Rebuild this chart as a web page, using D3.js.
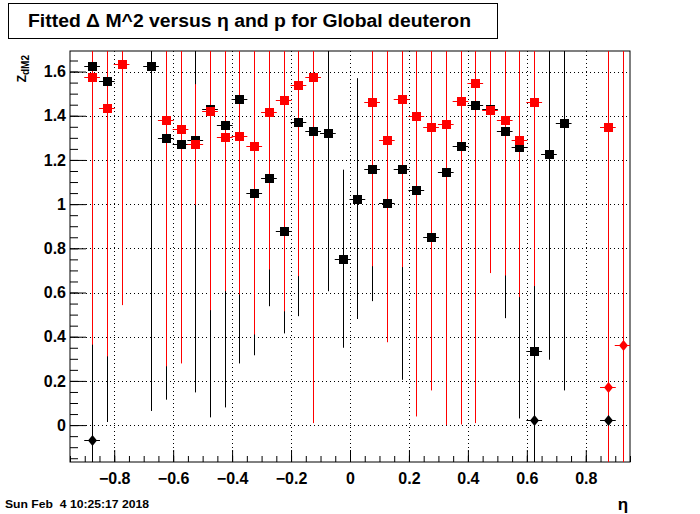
<!DOCTYPE html>
<html>
<head>
<meta charset="utf-8">
<script src="https://cdn.jsdelivr.net/npm/d3@7"></script>
<style>
body { margin: 0; background: #fff; }
text { font-family: "Liberation Sans", Arial, Helvetica, sans-serif; font-weight: bold; }
</style>
</head>
<body>
<div id="chart"></div>
<script>
// tick labels
const xTicks = [-0.8, -0.6, -0.4, -0.2, 0, 0.2, 0.4, 0.6, 0.8];
const yTicks = [0, 0.2, 0.4, 0.6, 0.8, 1, 1.2, 1.4, 1.6];

// half width of an eta bin
const etaHalf = 0.025;

// black squares
const blackSqEta = [-0.875, -0.825, -0.675, -0.625, -0.575, -0.525, -0.475, -0.425, -0.375, -0.325,
  -0.275, -0.225, -0.175, -0.125, -0.075, -0.025, 0.025, 0.075, 0.125, 0.175,
  0.225, 0.275, 0.325, 0.375, 0.425, 0.475, 0.525, 0.575, 0.625, 0.675, 0.725];
const blackSqVal = [1.624, 1.556, 1.624, 1.298, 1.274, 1.292, 1.430, 1.356, 1.475, 1.050,
  1.120, 0.880, 1.370, 1.329, 1.320, 0.753, 1.025, 1.161, 1.007, 1.161,
  1.066, 0.853, 1.147, 1.265, 1.447, 1.429, 1.329, 1.259, 0.337, 1.229, 1.365];
const blackSqErr = [1.0, 1.542, 1.56, 1.183, 0.9, 1.144, 1.395, 1.276, 1.196, 0.734,
  0.582, 0.465, 0.877, 1.0, 0.714, 0.403, 0.545, 0.600, 0.5, 0.956,
  0.8, 0.6, 0.9, 1.0, 1.2, 0.6, 0.845, 1.229, 0.6, 0.933, 1.208];

// red squares
const redSqEta = [-0.875, -0.825, -0.775, -0.625, -0.575, -0.525, -0.475, -0.425, -0.375, -0.325,
  -0.275, -0.225, -0.175, -0.125, 0.075, 0.125, 0.175, 0.225, 0.275, 0.325,
  0.375, 0.425, 0.475, 0.525, 0.575, 0.625, 0.875];
const redSqVal = [1.574, 1.433, 1.633, 1.380, 1.339, 1.270, 1.421, 1.302, 1.307, 1.261,
  1.419, 1.469, 1.537, 1.574, 1.460, 1.288, 1.474, 1.397, 1.347, 1.361,
  1.465, 1.546, 1.424, 1.383, 1.289, 1.460, 1.351];
const redSqErr = [1.21, 1.122, 1.09, 1.114, 1.06, 0.273, 0.901, 0.696, 0.716, 0.851,
  0.715, 0.954, 0.863, 1.565, 0.741, 0.913, 0.759, 1.358, 1.19, 1.361,
  1.462, 1.537, 0.736, 0.706, 0.710, 0.831, 1.6];

// black diamonds
const blackDiaEta = [-0.875, 0.625, 0.875];
const blackDiaVal = [-0.067, 0.023, 0.023];
const blackDiaErr = [1.9, 1.9, 1.9];

// red diamonds
const redDiaEta = [0.875, 0.925];
const redDiaVal = [0.172, 0.363];
const redDiaErr = [1.9, 1.9];

const width = 700, height = 514;
const fl = 70, fr = 630, ft = 51, fb = 462;

const svg = d3.select("#chart").append("svg")
  .attr("width", width).attr("height", height);

const x = d3.scaleLinear().domain([-0.95, 0.95]).range([fl, fr]);
const y = d3.scaleLinear().domain([-0.167, 1.693]).range([fb, ft]);

// title box
svg.append("rect").attr("x", 8.5).attr("y", 3.5).attr("width", 489).attr("height", 35)
  .attr("fill", "#fff").attr("stroke", "#000");
svg.append("text").attr("x", 28).attr("y", 27).attr("font-size", 18)
  .attr("textLength", 443).attr("lengthAdjust", "spacingAndGlyphs")
  .text("Fitted \u0394 M^2 versus \u03b7 and p for Global deuteron");

// frame
svg.append("rect").attr("x", fl).attr("y", ft).attr("width", fr - fl).attr("height", fb - ft)
  .attr("fill", "#fff").attr("stroke", "#000");

// grid
const grid = svg.append("g").attr("stroke", "#000").attr("stroke-dasharray", "1,3");
grid.selectAll("line.gx").data(xTicks).join("line")
  .attr("x1", d => Math.round(x(d)) + 0.5).attr("x2", d => Math.round(x(d)) + 0.5)
  .attr("y1", ft).attr("y2", fb);
grid.selectAll("line.gy").data(yTicks).join("line")
  .attr("class", "gy")
  .attr("y1", d => Math.round(y(d)) + 0.5).attr("y2", d => Math.round(y(d)) + 0.5)
  .attr("x1", fl).attr("x2", fr);

// axes
const xMinor = d3.range(-0.95, 0.951, 0.05);
const yMinor = d3.range(-0.15, 1.651, 0.05);

svg.append("g").attr("transform", `translate(0,${fb})`)
  .call(d3.axisBottom(x).tickValues(xMinor).tickSize(-6).tickFormat(""))
  .call(g => g.select(".domain").remove());
const xAxis = svg.append("g").attr("transform", `translate(0,${fb})`)
  .call(d3.axisBottom(x).tickValues(xTicks).tickSize(-12).tickPadding(7).tickFormat(d3.format("")))
  .call(g => g.select(".domain").remove());
xAxis.selectAll("text").attr("font-size", 16).attr("font-family", null).attr("dy", "0.95em");

svg.append("g").attr("transform", `translate(${fl},0)`)
  .call(d3.axisLeft(y).tickValues(yMinor).tickSize(-8).tickFormat(""))
  .call(g => g.select(".domain").remove());
const yAxis = svg.append("g").attr("transform", `translate(${fl},0)`)
  .call(d3.axisLeft(y).tickValues(yTicks).tickSize(-16).tickPadding(4).tickFormat(d3.format("")))
  .call(g => g.select(".domain").remove());
yAxis.selectAll("text").attr("font-size", 16).attr("font-family", null);
svg.selectAll(".tick line").attr("stroke", "#000");

// axis titles
const yt = svg.append("text").attr("transform", "translate(26,55) rotate(-90)")
  .attr("text-anchor", "end").attr("font-size", 12);
yt.append("tspan").text("Z");
yt.append("tspan").attr("font-size", 10).attr("dy", 3).text("dM2");

svg.append("text").attr("x", 623).attr("y", 510).attr("text-anchor", "middle")
  .attr("font-size", 17).attr("font-weight", "normal").text("\u03b7");

svg.append("text").attr("x", 5).attr("y", 508).attr("font-size", 11)
  .style("white-space", "pre")
  .attr("textLength", 144).attr("lengthAdjust", "spacingAndGlyphs")
  .text("Sun Feb  4 10:25:17 2018");

// data
svg.append("clipPath").attr("id", "frameClip").append("rect")
  .attr("x", fl).attr("y", ft).attr("width", fr - fl).attr("height", fb - ft);

function series(etas, vals, errs, color, shape) {
  return etas.map((e, i) => ({ eta: e, val: vals[i], err: errs[i], color, shape }));
}
const allSeries = [
  series(blackSqEta, blackSqVal, blackSqErr, "#000", "sq"),
  series(blackDiaEta, blackDiaVal, blackDiaErr, "#000", "dia"),
  series(redSqEta, redSqVal, redSqErr, "#f00", "sq"),
  series(redDiaEta, redDiaVal, redDiaErr, "#f00", "dia")
];

const plot = svg.append("g").attr("clip-path", "url(#frameClip)");
const bars = plot.append("g");
const marks = plot.append("g");

allSeries.forEach(pts => {
  const g = bars.append("g");
  g.selectAll("line.v").data(pts).join("line").attr("class", "v")
    .attr("x1", d => Math.round(x(d.eta)) + 0.5).attr("x2", d => Math.round(x(d.eta)) + 0.5)
    .attr("y1", d => y(d.val - d.err)).attr("y2", d => y(d.val + d.err))
    .attr("stroke", d => d.color);
  g.selectAll("line.h").data(pts).join("line").attr("class", "h")
    .attr("x1", d => x(d.eta - etaHalf) - 0.5).attr("x2", d => x(d.eta + etaHalf) + 0.5)
    .attr("y1", d => Math.round(y(d.val)) + 0.5).attr("y2", d => Math.round(y(d.val)) + 0.5)
    .attr("stroke", d => d.color);
});

allSeries.forEach(pts => {
  const g = marks.append("g");
  g.selectAll("path").data(pts).join("path")
    .attr("transform", d => `translate(${Math.round(x(d.eta)) + 0.5},${Math.round(y(d.val)) + 0.5})`)
    .attr("d", d => d.shape === "sq" ? "M-4.5,-4.5H4.5V4.5H-4.5Z" : "M0,-5.5L4.5,0L0,5.5L-4.5,0Z")
    .attr("fill", d => d.color);
});
</script>
</body>
</html>
